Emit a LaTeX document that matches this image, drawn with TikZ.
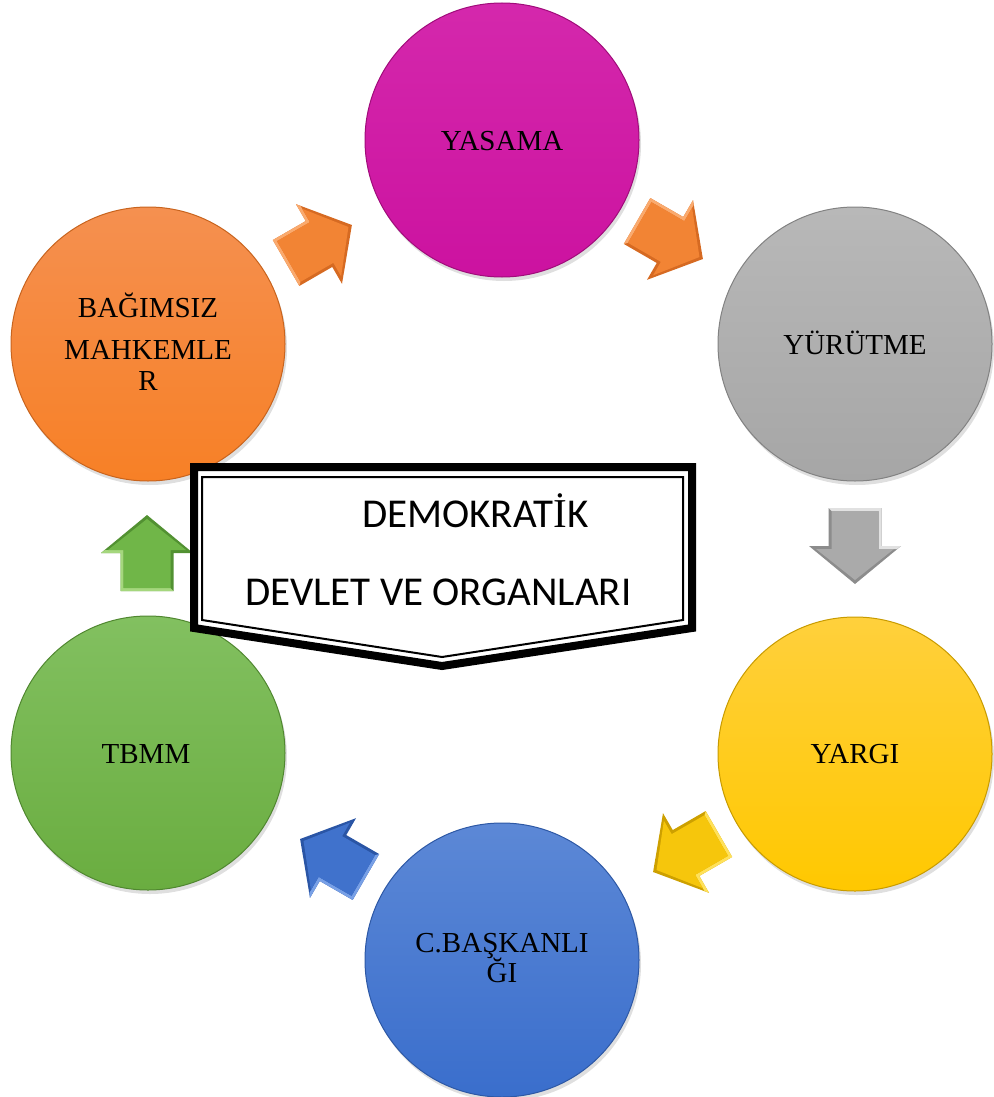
\documentclass[tikz,border=0pt]{standalone}
\usepackage{fontspec}
\setmainfont{Liberation Serif}
\newfontfamily\bannerfont{Carlito}
\usetikzlibrary{shadows}
\definecolor{yasT}{RGB}{212,40,172}\definecolor{yasB}{RGB}{204,18,160}\definecolor{yasD}{RGB}{160,12,122}
\definecolor{yurT}{RGB}{184,184,184}\definecolor{yurB}{RGB}{166,166,166}\definecolor{yurD}{RGB}{130,130,130}
\definecolor{yarT}{RGB}{255,208,60}\definecolor{yarB}{RGB}{255,200,0}\definecolor{yarD}{RGB}{200,155,0}
\definecolor{cbaT}{RGB}{92,136,214}\definecolor{cbaB}{RGB}{58,110,204}\definecolor{cbaD}{RGB}{45,88,165}
\definecolor{tbmT}{RGB}{130,192,96}\definecolor{tbmB}{RGB}{106,173,64}\definecolor{tbmD}{RGB}{80,135,48}
\definecolor{bagT}{RGB}{245,144,80}\definecolor{bagB}{RGB}{247,128,38}\definecolor{bagD}{RGB}{200,100,30}
\definecolor{arO}{RGB}{242,132,52}\definecolor{arOD}{RGB}{214,106,34}\definecolor{arOL}{RGB}{250,170,110}
\definecolor{arG}{RGB}{170,170,170}\definecolor{arGD}{RGB}{140,140,140}\definecolor{arGL}{RGB}{225,225,225}
\definecolor{arY}{RGB}{246,198,12}\definecolor{arYD}{RGB}{205,160,0}\definecolor{arYL}{RGB}{255,225,90}
\definecolor{arB}{RGB}{64,114,204}\definecolor{arBD}{RGB}{42,85,165}\definecolor{arBL}{RGB}{120,160,230}
\definecolor{arN}{RGB}{112,182,72}\definecolor{arND}{RGB}{82,145,50}\definecolor{arNL}{RGB}{165,215,125}
\newcommand\blockarr[4]{%
  \begin{scope}[shift={(#1,#2)}, rotate=#3]
    \fill[#4D] (-38,-26.5) -- (0,-26.5) -- (0,-46) -- (38,0) -- (0,46) -- (0,26.5) -- (-38,26.5) -- cycle;
    \fill[#4L] (-38,26.5) -- (-38,-26.5) -- (0,-26.5) -- (0,-46) -- (3,-42) -- (3,-23.5) -- (-35,-23.5) -- (-35,23.5) -- cycle;
    \fill[#4] (-35,-23.5) -- (3,-23.5) -- (3,-39) -- (34,0) -- (3,39) -- (3,23.5) -- (-35,23.5) -- cycle;
  \end{scope}}
\begin{document}
\begin{tikzpicture}[x=1pt,y=-1pt,
  circ/.style={circle, minimum size=274pt, inner sep=0pt, line width=1pt,
    drop shadow={shadow xshift=2pt, shadow yshift=-4pt, opacity=0.25}},
  lbl/.style={font=\fontsize{29}{34}\selectfont, anchor=base, inner sep=0pt},
  bantext/.style={font=\bannerfont\fontsize{41}{48}\selectfont, anchor=base west, inner sep=0pt}]
\useasboundingbox (0,0) rectangle (993,1097);
% circles
\node[circ, top color=yasT, bottom color=yasB, draw=yasD] (yasama) at (502,140) {};
\node[circ, top color=yurT, bottom color=yurB, draw=yurD] (yurutme) at (855,344) {};
\node[circ, top color=yarT, bottom color=yarB, draw=yarD] (yargi) at (855,754) {};
\node[circ, top color=cbaT, bottom color=cbaB, draw=cbaD] (cbask) at (502,960) {};
\node[circ, top color=tbmT, bottom color=tbmB, draw=tbmD] (tbmm) at (148,753) {};
\node[circ, top color=bagT, bottom color=bagB, draw=bagD] (bagim) at (148,344) {};
% labels
\node[lbl] (lyas) at ([yshift=-10pt]yasama.center) {YASAMA};
\node[lbl] (lyur) at ([yshift=-10pt]yurutme.center) {YÜRÜTME};
\node[lbl] (lyar) at ([yshift=-9pt]yargi.center) {YARGI};
\node[lbl] (lcb1) at ([yshift=8pt]cbask.center) {C.BAŞKANLI};
\node[lbl] (lcb2) at ([yshift=-22pt]cbask.center) {ĞI};
\node[lbl] (ltb) at ([xshift=-2pt,yshift=-10pt]tbmm.center) {TBMM};
\node[lbl] (lbg1) at ([yshift=27pt]bagim.center) {BAĞIMSIZ};
\node[lbl] (lbg2) at ([yshift=-15pt]bagim.center) {MAHKEMLE};
\node[lbl] (lbg3) at ([yshift=-46pt]bagim.center) {R};
% arrows
\blockarr{319}{244}{30}{arO}
\blockarr{670}{240}{-30}{arO}
\blockarr{855}{546}{-90}{arG}
\blockarr{686}{853}{-150}{arY}
\blockarr{333}{858}{150}{arB}
\blockarr{147}{553}{90}{arN}
% banner
\draw[line width=8pt, fill=white, line join=miter] (194,467) -- (692,467) -- (692,628) -- (442,666) -- (194,628) -- cycle;
\draw[line width=2pt, line join=miter] (202,477) -- (683,477) -- (683,620) -- (442,657) -- (202,620) -- cycle;
\node[bantext] (t1) at (362,527) {DEMOKRAT{\rmfamily İ}K};
\node[bantext] (t2) at (245,605) {DEVLET VE ORGANLARI};
\end{tikzpicture}
\end{document}
